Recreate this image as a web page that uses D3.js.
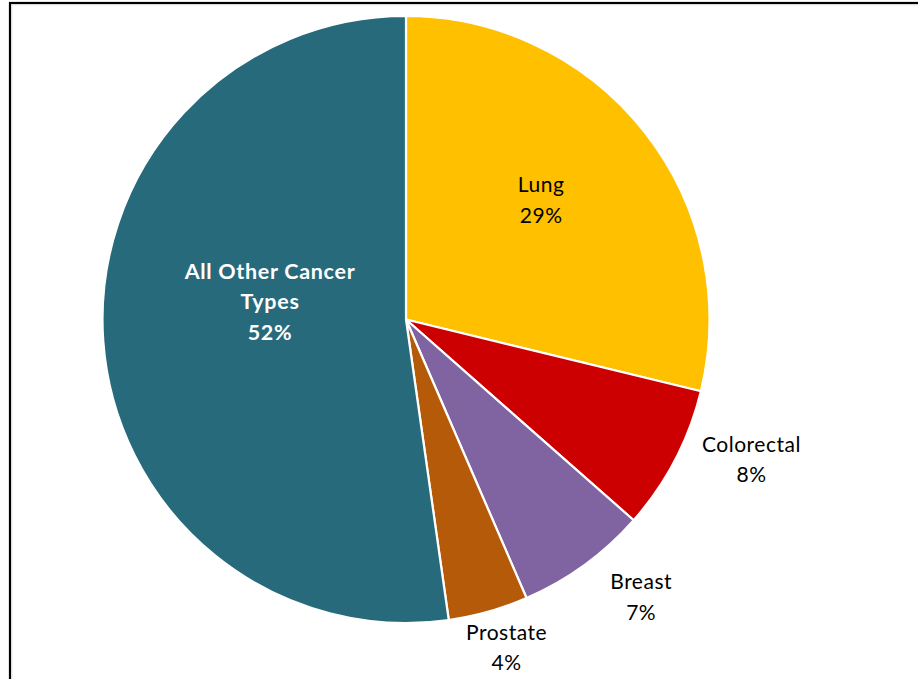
<!DOCTYPE html>
<html>
<head>
<meta charset="utf-8">
<script src="https://cdn.jsdelivr.net/npm/d3@7"></script>
<style>
html,body{margin:0;padding:0;background:#fff;}
svg{display:block;}
</style>
</head>
<body>
<svg id="chart" width="918" height="679"></svg>
<script>
const categories = ["Lung", "Colorectal", "Breast", "Prostate", "All Other Cancer Types"];
const values = [28.8, 7.7, 7.0, 4.25, 52.25];
const percentLabels = ["29%", "8%", "7%", "4%", "52%"];
const colors = ["#FFC000", "#CC0000", "#8064A2", "#B55A08", "#276A7B"];

// label layout: radius factor and angular nudge (degrees)
const labelLayout = [
  {k: 0.595, da: -3.4, lines: ["Lung"]},
  {k: 1.228, da: -5.5, lines: ["Colorectal"]},
  {k: 1.198, da: -4.3, lines: ["Breast"]},
  {k: 1.13,  da: -1.3, lines: ["Prostate"]},
  {k: 0.452, da: 11.6, lines: ["All Other Cancer", "Types"]}
];

const svg = d3.select("#chart");
const W = 918, H = 679;
const cx = 406, cy = 319.5, R = 303.5;

// frame
svg.append("rect").attr("x", 10).attr("y", 3).attr("width", W + 20).attr("height", H + 20)
  .attr("fill", "#fff").attr("stroke", "#000").attr("stroke-width", 2.2);
svg.append("rect").attr("x", 11.8).attr("y", 4.8).attr("width", W + 20).attr("height", H + 20)
  .attr("fill", "none").attr("stroke", "#d9d9d9").attr("stroke-width", 1);

const data = categories.map((c, i) => ({cat: c, value: values[i], label: percentLabels[i], color: colors[i], layout: labelLayout[i]}));

const pie = d3.pie().value(d => d.value).sort(null);
const arc = d3.arc().innerRadius(0).outerRadius(R);
const arcs = pie(data);

const g = svg.append("g").attr("transform", `translate(${cx},${cy})`);

g.selectAll("path.slice").data(arcs).join("path")
  .attr("class", "slice")
  .attr("d", arc)
  .attr("fill", d => d.data.color)
  .attr("stroke", "#fff")
  .attr("stroke-width", 2.2)
  .attr("stroke-linejoin", "round");

const lineH = 30.5;
arcs.forEach(a => {
  const L = a.data.layout;
  const mid = (a.startAngle + a.endAngle) / 2 + L.da * Math.PI / 180;
  const r = R * L.k;
  const x = Math.sin(mid) * r;
  const y = -Math.cos(mid) * r;
  const lines = L.lines.concat([a.data.label]);
  const isOther = a.index === 4;
  const t = g.append("text")
    .attr("x", x).attr("y", y)
    .attr("text-anchor", "middle")
    .attr("font-family", "Lato, 'Noto Sans', sans-serif")
    .attr("font-size", isOther ? 21.5 : 21)
    .attr("letter-spacing", isOther ? "0.7px" : "0.5px")
    .attr("font-weight", isOther ? "bold" : "normal")
    .attr("fill", isOther ? "#fff" : "#000");
  const n = lines.length;
  lines.forEach((ln, j) => {
    t.append("tspan").attr("x", x)
      .attr("y", y + (j - (n - 1) / 2) * lineH)
      .attr("dy", "0.36em")
      .text(ln);
  });
});
</script>
</body>
</html>
